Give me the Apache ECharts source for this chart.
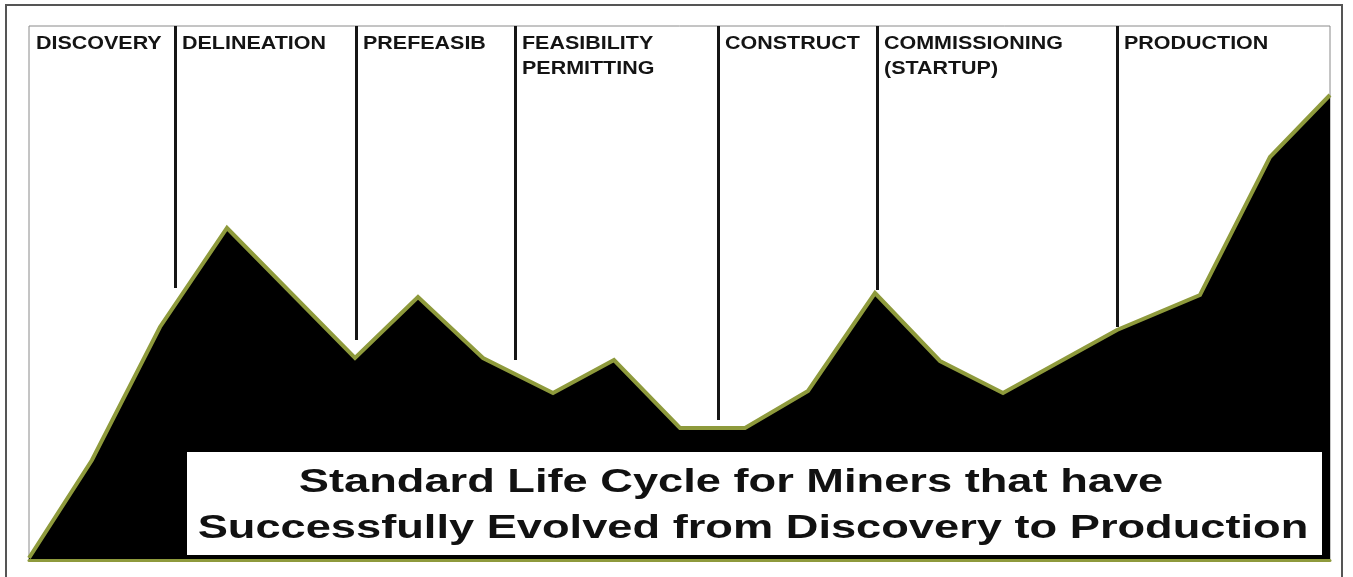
<!DOCTYPE html>
<html>
<head>
<meta charset="utf-8">
<title>Standard Life Cycle for Miners</title>
<script src="https://cdn.jsdelivr.net/npm/echarts@6/dist/echarts.min.js"></script>
<style>
	html, body { margin: 0; padding: 0; background: #fff; }
	#lifeCycle { width: 1353px; height: 577px; }
</style>
</head>
<body>
<div id="lifeCycle"></div>
<script>
'use strict';

// phases along the top, and where each one starts on the x scale
var phaseNames = ['DISCOVERY', 'DELINEATION', 'PREFEASIB', 'FEASIBILITY\nPERMITTING', 'CONSTRUCT', 'COMMISSIONING\n(STARTUP)', 'PRODUCTION'];
var phaseStarts = [0, 146, 327, 486, 689, 848, 1088];
// how far down each divider line reaches (one per phase after the first)
var dividerEnds = [272, 220, 200, 140, 270, 233];

// the value curve
var cycleX = [0, 63, 131, 198, 326, 389, 454, 524, 585, 651, 716, 779, 846, 911, 974, 1088, 1171, 1241, 1301];
var cycleY = [2, 100, 233, 332, 202, 263, 202, 167, 200, 132, 132, 169, 267, 199, 167, 230, 265, 403, 465];

var captionLines = ['Standard Life Cycle for Miners that have', 'Successfully Evolved from Discovery to Production'];

var X_MAX = 1301,
		Y_MAX = 534,
		OLIVE = '#8e9a3c',
		LABEL_FONT = 'Liberation Sans, Arial, sans-serif',
		chart = echarts.init(document.getElementById('lifeCycle'));

function buildSeriesData() {
	var out = [], i = 0;
	for (; i < cycleX.length; i++) {
		out.push([cycleX[i], cycleY[i]]);
	}
	return out;
}

function buildDividers() {
	var out = [], i = 1;
	for (; i < phaseStarts.length; i++) {
		out.push([{coord: [phaseStarts[i], Y_MAX]}, {coord: [phaseStarts[i], dividerEnds[i - 1]]}]);
	}
	return out;
}

chart.setOption({
	animation: false,
	backgroundColor: '#fff',
	grid: {
		left: 29, right: 23, top: 26, bottom: 17,
		show: true,
		borderColor: '#8a8a8a',
		borderWidth: 1,
		backgroundColor: '#fff'
	},
	xAxis: {
		type: 'value',
		min: 0,
		max: X_MAX,
		z: 5,
		axisLine: {show: true, lineStyle: {color: OLIVE, width: 3}},
		axisTick: {show: false},
		axisLabel: {show: false},
		splitLine: {show: false}
	},
	yAxis: {
		type: 'value',
		min: 0,
		max: Y_MAX,
		axisLine: {show: false},
		axisTick: {show: false},
		axisLabel: {show: false},
		splitLine: {show: false}
	},
	series: [
		{
			type: 'line',
			data: buildSeriesData(),
			symbol: 'none',
			lineStyle: {color: OLIVE, width: 4, join: 'miter'},
			areaStyle: {color: '#000', opacity: 1},
			markLine: {
				silent: true,
				symbol: 'none',
				label: {show: false},
				lineStyle: {color: '#151515', width: 3, type: 'solid'},
				data: buildDividers()
			}
		}
	]
});

function phaseLabels() {
	var out = [], i = 0;
	for (; i < phaseNames.length; i++) {
		var px = chart.convertToPixel({gridIndex: 0}, [phaseStarts[i], Y_MAX]),
				lines = phaseNames[i].split('\n').length;
		out.push({
			type: 'text',
			x: px[0] + 7,
			y: px[1] + 18 + (lines - 1) * 12.5,
			scaleX: 1.13,
			z: 10,
			style: {
				text: phaseNames[i],
				fill: '#141414',
				fontFamily: LABEL_FONT,
				fontWeight: 'bold',
				fontSize: 19,
				lineHeight: 25,
				align: 'left',
				verticalAlign: 'middle'
			}
		});
	}
	return out;
}

var graphics = [
	{
		type: 'rect',
		z: 1,
		shape: {x: 6, y: 5, width: 1336, height: 590},
		style: {fill: null, stroke: '#555', lineWidth: 2}
	},
	{
		type: 'rect',
		z: 10,
		shape: {x: 187, y: 452, width: 1135, height: 103},
		style: {fill: '#fff', stroke: null}
	},
	{
		type: 'text',
		x: 731, y: 483, scaleX: 1.33, z: 11,
		style: {text: captionLines[0], fill: '#111', fontFamily: LABEL_FONT,
			fontWeight: 'bold', fontSize: 34, align: 'center', verticalAlign: 'middle'}
	},
	{
		type: 'text',
		x: 753, y: 529, scaleX: 1.33, z: 11,
		style: {text: captionLines[1], fill: '#111', fontFamily: LABEL_FONT,
			fontWeight: 'bold', fontSize: 34, align: 'center', verticalAlign: 'middle'}
	}
];

chart.setOption({graphic: graphics.concat(phaseLabels())});
</script>
</body>
</html>
